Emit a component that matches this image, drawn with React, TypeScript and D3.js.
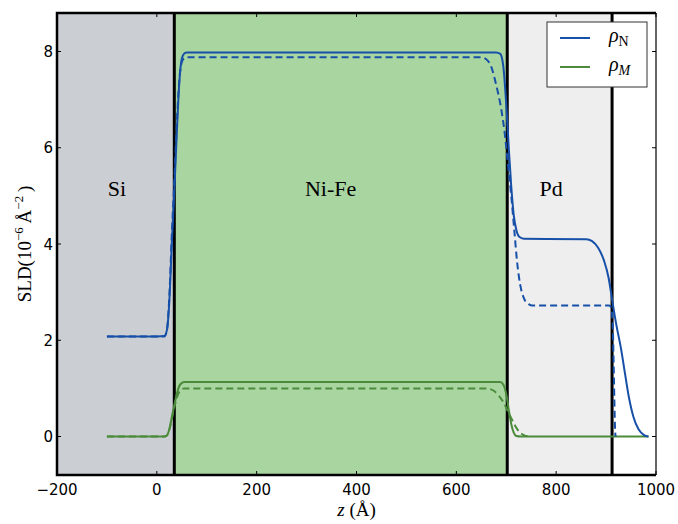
import React, { useEffect, useRef } from 'react';
import * as d3 from 'd3';

// layer regions (z in Å)
const layerNames = ['Si', 'Ni-Fe', 'Pd', ''];
const layerStart = [-200, 35, 702, 912];
const layerEnd = [35, 702, 912, 1000];
const layerLabelZ = [-80, 348, 790];
const layerLabelV = 5.0;
const interfaces = [35, 702, 912];

// rho_N, solid (fit)
const rhoNSolid: [number, number][] = [
  [-100, 2.08], [0, 2.08], [15, 2.09], [20, 2.2], [25, 2.8], [30, 4.0], [35, 5.1], [40, 6.3],
  [45, 7.35], [50, 7.85], [55, 7.96], [60, 7.98], [680, 7.98], [688, 7.95], [694, 7.7],
  [700, 6.9], [705, 6.0], [710, 5.2], [715, 4.6], [720, 4.3], [726, 4.15], [735, 4.11],
  [860, 4.1], [872, 4.06], [884, 3.92], [896, 3.65], [905, 3.3], [912, 2.85], [920, 2.35],
  [930, 1.82], [938, 1.3], [946, 0.8], [955, 0.4], [965, 0.15], [976, 0.03], [985, 0.0],
];
// rho_N, dashed (model)
const rhoNDashed: [number, number][] = [
  [-100, 2.08], [15, 2.08], [20, 2.2], [25, 2.9], [30, 4.2], [35, 5.3], [40, 6.5], [45, 7.4],
  [50, 7.78], [55, 7.86], [60, 7.88], [650, 7.88], [660, 7.84], [670, 7.68], [680, 7.3],
  [690, 6.8], [696, 6.38], [703, 5.7], [710, 5.0], [716, 4.3], [722, 3.6], [728, 3.15],
  [736, 2.86], [745, 2.75], [752, 2.72], [906, 2.72], [910, 2.68], [913, 2.4], [915, 1.6],
  [916.5, 0.8], [918, 0.15], [919, 0.0],
];
// rho_M, solid (fit)
const rhoMSolid: [number, number][] = [
  [-100, 0.0], [15, 0.0], [20, 0.02], [25, 0.15], [30, 0.4], [35, 0.65], [40, 0.88], [45, 1.05],
  [50, 1.11], [55, 1.13], [688, 1.13], [694, 1.08], [700, 0.88], [705, 0.56], [710, 0.26],
  [715, 0.08], [720, 0.01], [730, 0.0], [985, 0.0],
];
// rho_M, dashed (model)
const rhoMDashed: [number, number][] = [
  [-100, 0.0], [15, 0.0], [20, 0.02], [25, 0.14], [30, 0.36], [35, 0.6], [40, 0.8], [45, 0.93],
  [50, 0.98], [55, 1.0], [650, 1.0], [665, 0.99], [675, 0.95], [685, 0.85], [695, 0.7],
  [702, 0.55], [710, 0.38], [718, 0.22], [726, 0.1], [735, 0.03], [745, 0.0],
];

const xTicks = [-200, 0, 200, 400, 600, 800, 1000];
const yTicks = [0, 2, 4, 6, 8];

const W = 678;
const H = 524;
const margin = { top: 13, right: 22, bottom: 49, left: 57 };
const blue = '#1750a8';
const green = '#4b8b3b';
const layerFill = ['#cbced2', '#a8d5a0', '#eeeeee', '#ffffff'];

const App = () => {
  const svgRef = useRef<SVGSVGElement>(null);

  useEffect(() => {
    const svg = d3.select(svgRef.current);
    svg.selectAll('*').remove();

    const pw = W - margin.left - margin.right;
    const ph = H - margin.top - margin.bottom;

    const x = d3.scaleLinear().domain([-200, 1000]).range([0, pw]);
    const y = d3.scaleLinear().domain([-0.8, 8.8]).range([ph, 0]);

    const g = svg.append('g').attr('transform', `translate(${margin.left},${margin.top})`);

    // layer backgrounds
    g.selectAll('.layer')
      .data(layerStart)
      .join('rect')
      .attr('x', (d) => x(d))
      .attr('y', 0)
      .attr('width', (d, i) => x(layerEnd[i]) - x(d))
      .attr('height', ph)
      .attr('fill', (d, i) => layerFill[i]);

    // interface lines
    g.selectAll('.iface')
      .data(interfaces)
      .join('line')
      .attr('x1', (d) => x(d))
      .attr('x2', (d) => x(d))
      .attr('y1', 0)
      .attr('y2', ph)
      .attr('stroke', '#000')
      .attr('stroke-width', 3);

    // layer labels
    g.selectAll('.lbl')
      .data(layerLabelZ)
      .join('text')
      .attr('x', (d) => x(d))
      .attr('y', y(layerLabelV))
      .attr('text-anchor', 'middle')
      .attr('font-family', 'Liberation Serif, serif')
      .attr('font-size', 22)
      .text((d, i) => layerNames[i]);

    const line = d3
      .line<[number, number]>()
      .x((d) => x(d[0]))
      .y((d) => y(d[1]))
      .curve(d3.curveMonotoneX);

    const series = [
      { d: rhoMSolid, c: green, dash: null },
      { d: rhoMDashed, c: green, dash: '7,4' },
      { d: rhoNSolid, c: blue, dash: null },
      { d: rhoNDashed, c: blue, dash: '7,4' },
    ];
    series.forEach((s) => {
      g.append('path')
        .datum(s.d)
        .attr('d', line)
        .attr('fill', 'none')
        .attr('stroke', s.c)
        .attr('stroke-width', 2)
        .attr('stroke-dasharray', s.dash);
    });

    // frame
    g.append('line').attr('x1', pw).attr('x2', pw).attr('y1', 0).attr('y2', ph)
      .attr('stroke', '#333').attr('stroke-width', 1.5);
    g.append('path')
      .attr('d', `M${pw},0H0V${ph}H${pw}`)
      .attr('fill', 'none')
      .attr('stroke', '#000')
      .attr('stroke-width', 2.5);

    // ticks (inward, all four sides)
    const tl = 4;
    xTicks.forEach((t) => {
      g.append('line').attr('x1', x(t)).attr('x2', x(t)).attr('y1', ph).attr('y2', ph - tl)
        .attr('stroke', '#000').attr('stroke-width', 1);
      g.append('line').attr('x1', x(t)).attr('x2', x(t)).attr('y1', 0).attr('y2', tl)
        .attr('stroke', '#000').attr('stroke-width', 1);
      g.append('text')
        .attr('x', x(t))
        .attr('y', ph + 20)
        .attr('text-anchor', 'middle')
        .attr('font-family', 'DejaVu Sans, sans-serif')
        .attr('font-size', 15)
        .text(t < 0 ? `\u2212${Math.abs(t)}` : `${t}`);
    });
    yTicks.forEach((t) => {
      g.append('line').attr('x1', 0).attr('x2', tl).attr('y1', y(t)).attr('y2', y(t))
        .attr('stroke', '#000').attr('stroke-width', 1);
      g.append('line').attr('x1', pw).attr('x2', pw - tl).attr('y1', y(t)).attr('y2', y(t))
        .attr('stroke', '#000').attr('stroke-width', 1);
      g.append('text')
        .attr('x', -4)
        .attr('y', y(t) + 5.5)
        .attr('text-anchor', 'end')
        .attr('font-family', 'DejaVu Sans, sans-serif')
        .attr('font-size', 15)
        .text(`${t}`);
    });

    // x label
    const xl = svg.append('text')
      .attr('x', margin.left + pw / 2)
      .attr('y', 516)
      .attr('text-anchor', 'middle')
      .attr('font-family', 'Liberation Serif, serif')
      .attr('font-size', 19);
    xl.append('tspan').attr('font-style', 'italic').text('z');
    xl.append('tspan').text(' (Å)');

    // y label
    const yl = svg.append('text')
      .attr('transform', `translate(31,${margin.top + y(4.0)}) rotate(-90)`)
      .attr('text-anchor', 'middle')
      .attr('font-family', 'Liberation Serif, serif')
      .attr('font-size', 19);
    yl.append('tspan').text('SLD(10');
    yl.append('tspan').attr('dy', -8).attr('font-size', 13).text('\u22126');
    yl.append('tspan').attr('dy', 8).text('\u2009Å');
    yl.append('tspan').attr('dy', -8).attr('font-size', 13).text('\u22122');
    yl.append('tspan').attr('dy', 8).text('\u2009)');

    // legend
    const lg = svg.append('g');
    lg.append('rect').attr('x', 547).attr('y', 22).attr('width', 100).attr('height', 65)
      .attr('fill', '#fff').attr('stroke', '#333').attr('stroke-width', 1);
    const legendItems = [
      { c: blue, sub: 'N', italic: false },
      { c: green, sub: 'M', italic: true },
    ];
    legendItems.forEach((it, i) => {
      const ly = 38 + i * 29;
      lg.append('line').attr('x1', 560).attr('x2', 590).attr('y1', ly).attr('y2', ly)
        .attr('stroke', it.c).attr('stroke-width', 2);
      const t = lg.append('text').attr('x', 609).attr('y', ly + 4)
        .attr('font-family', 'Liberation Serif, serif').attr('font-size', 20);
      t.append('tspan').attr('font-style', 'italic').text('ρ');
      t.append('tspan').attr('dy', 4).attr('font-size', 14)
        .attr('font-style', it.italic ? 'italic' : 'normal').text(it.sub);
    });
  }, []);

  return (
    <svg
      ref={svgRef}
      width={W}
      height={H}
      style={{ position: 'absolute', left: 0, top: 0, background: '#fff' }}
    ></svg>
  );
};

export default App;
